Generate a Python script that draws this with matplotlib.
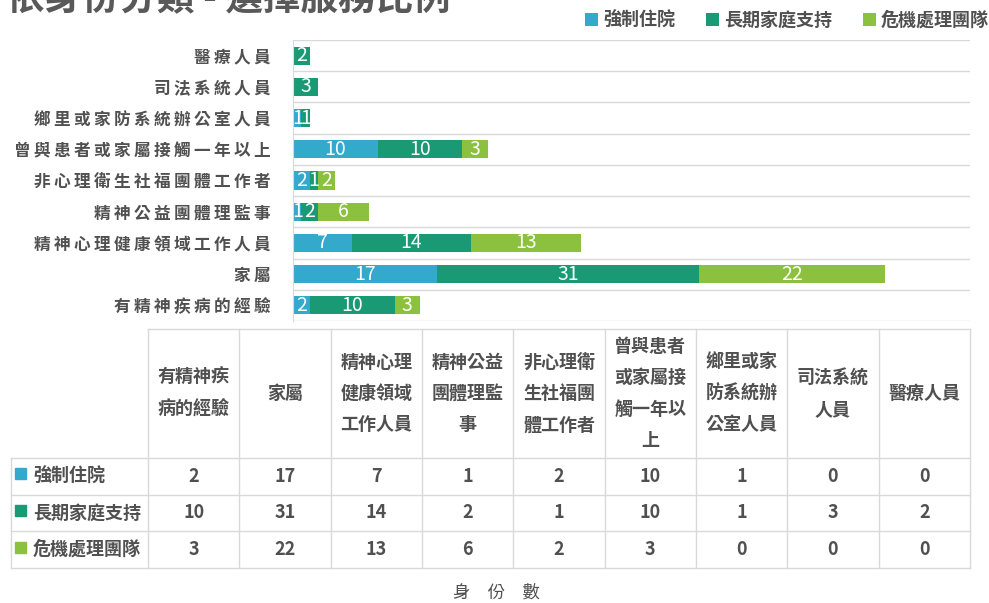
import matplotlib
matplotlib.use("Agg")
import matplotlib.pyplot as plt
from matplotlib.patches import Rectangle
import numpy as np

plt.rcParams['font.family'] = ['Noto Sans CJK TC', 'DejaVu Sans']

# Data (bottom to top in the bar chart, left to right in the table)
categories = ['有精神疾病的經驗', '家屬', '精神心理健康領域工作人員', '精神公益團體理監事',
              '非心理衛生社福團體工作者', '曾與患者或家屬接觸一年以上', '鄉里或家防系統辦公室人員',
              '司法系統人員', '醫療人員']
series_names = ['強制住院', '長期家庭支持', '危機處理團隊']
forced = [2, 17, 7, 1, 2, 10, 1, 0, 0]
family_support = [10, 31, 14, 2, 1, 10, 1, 3, 2]
crisis_team = [3, 22, 13, 6, 2, 3, 0, 0, 0]
series_values = [forced, family_support, crisis_team]
colors = ['#33A9CC', '#1A9A74', '#8BC13F']

title = '依身份分類 - 選擇服務比例'
axis_title = '身 份 數'

W, H = 989, 603
fig = plt.figure(figsize=(W / 100, H / 100), dpi=100)
TXT = '#505050'
GRID = '#D9D9D9'
WT = 'bold'

# Bar chart area (pixel geometry of the reference)
x0, x1, y0, y1 = 293, 970, 40, 321
ax = fig.add_axes([x0 / W, 1 - y1 / H, (x1 - x0) / W, (y1 - y0) / H])
ypos = np.arange(len(categories))
left = np.zeros(len(categories))
containers = []
for name, vals, c in zip(series_names, series_values, colors):
    vals = np.array(vals)
    bc = ax.barh(ypos, vals, left=left, height=0.58, color=c, label=name)
    ax.bar_label(bc, labels=[str(v) if v > 0 else '' for v in vals],
                 label_type='center', color='white', fontsize=14)
    containers.append(bc)
    left += vals

ax.set_xlim(0, 80)
ax.set_ylim(-0.5, len(categories) - 0.5)
ax.set_xticks([])
ax.set_yticks(ypos)
ax.set_yticklabels(['\u2009'.join(c) for c in categories], fontsize=12,
                   color=TXT, fontweight=WT)
ax.set_yticks(np.arange(-0.5, len(categories)), minor=True)
ax.tick_params(axis='y', which='both', length=0, pad=16)
ax.grid(which='minor', axis='y', color=GRID, linewidth=1)
for s in ['top', 'right', 'bottom']:
    ax.spines[s].set_visible(False)
ax.spines['left'].set_color(GRID)
ax.set_axisbelow(True)

# Legend
fig.legend(handles=containers, labels=series_names, loc='center right',
           bbox_to_anchor=(1.0, 1 - 20 / H), ncol=3, frameon=False,
           handlelength=0.7, handleheight=0.7, handletextpad=0.3,
           columnspacing=1.7, borderpad=0, borderaxespad=0,
           prop={'size': 13, 'weight': 'bold'}, labelcolor=TXT)

# Title (partly cut by top edge in the reference)
fig.text(7 / W, 1 - 10 / H, title, fontsize=27, color='#595959',
         fontweight='bold', ha='left', va='baseline')

# Data table drawn in pixel coordinates
tab = fig.add_axes([0, 0, 1, 1])
tab.set_xlim(0, W)
tab.set_ylim(H, 0)
tab.axis('off')
col_x = [148 + i * (970 - 148) / 9 for i in range(10)]
row_y = [329, 458, 494.5, 531, 568]
lk = dict(color=GRID, linewidth=1)
tab.plot([col_x[0], col_x[-1]], [row_y[0], row_y[0]], **lk)
for x in col_x:
    tab.plot([x, x], [row_y[0], row_y[-1]], **lk)
for y in row_y[1:]:
    tab.plot([10.5, col_x[-1]], [y, y], **lk)
tab.plot([10.5, 10.5], [row_y[1], row_y[-1]], **lk)

for i, cat in enumerate(categories):
    cx = (col_x[i] + col_x[i + 1]) / 2
    lines = [cat[k:k + 4] for k in range(0, len(cat), 4)]
    yc = (row_y[0] + row_y[1]) / 2
    for j, ln in enumerate(lines):
        yy = yc + (j - (len(lines) - 1) / 2) * 31.5
        tab.text(cx, yy, ln, fontsize=13, color=TXT, fontweight=WT,
                 ha='center', va='center')
    for r, vals in enumerate(series_values):
        ry = (row_y[r + 1] + row_y[r + 2]) / 2
        tab.text(cx, ry, str(vals[i]), fontsize=13, color=TXT, fontweight=WT,
                 ha='center', va='center')

for r, (name, c) in enumerate(zip(series_names, colors)):
    ry = (row_y[r + 1] + row_y[r + 2]) / 2
    tab.add_patch(Rectangle((15, ry - 8), 11, 11, color=c))
    tab.text(33, ry, name, fontsize=13, color=TXT, fontweight=WT,
             ha='left', va='center')

tab.text(496, 593, axis_title.replace(' ', '\u3000'), fontsize=12.5, color=TXT,
         ha='center', va='center')

fig.savefig('out.png', dpi=100, facecolor='white')
